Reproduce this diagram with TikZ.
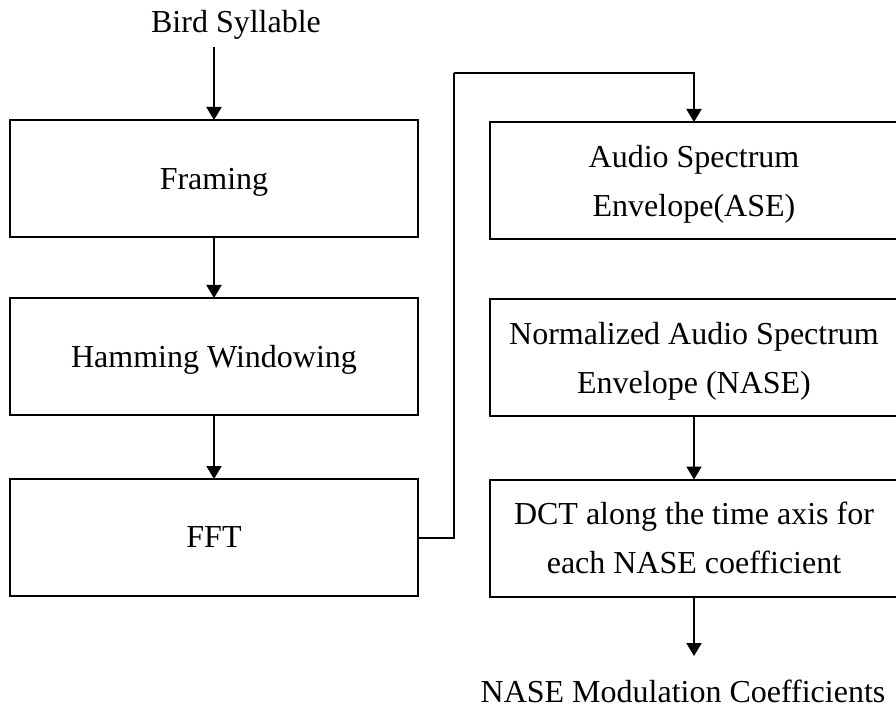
\documentclass[tikz,border=0pt]{standalone}
\usepackage{fontspec}
\setmainfont{Liberation Serif}
\usetikzlibrary{arrows.meta}
\begin{document}
\begin{tikzpicture}[x=0.5pt,y=-0.5pt,
  every node/.style={font=\fontsize{16}{24.5}\selectfont},
  procbox/.style={draw, line width=1pt, minimum width=204pt, minimum height=58.5pt, align=center, inner sep=0pt, outer sep=0pt, text depth=0pt},
  lbl/.style={inner sep=0pt, outer sep=0pt, anchor=base, text depth=0pt},
  arr/.style={line width=1pt, -{Triangle[length=6.5pt,width=7.5pt]}},
  conn/.style={line width=1pt}]
\useasboundingbox (0,0) rectangle (896,706);
\node[lbl] (bird) at (236,33) {Bird Syllable};
\coordinate (in) at (214,47);
\node[procbox] (framing) at (214,178.5) {Framing};
\node[procbox] (hamming) at (214,356.5) {Hamming Windowing};
\node[procbox] (fft) at (214,537.5) {FFT};
\node[procbox] (ase) at (694,180.5) {Audio Spectrum\\Envelope(ASE)};
\node[procbox] (nase) at (694,357.5) {Normalized Audio Spectrum\\Envelope (NASE)};
\node[procbox] (dct) at (694,538) {DCT along the time axis for\\each NASE coefficient};
\node[lbl] (out) at (683,702) {NASE Modulation Coefficients};
\coordinate (outpt) at (694,656);
\coordinate (turn) at (454,73);
\draw[arr] (in) -- (framing.north);
\draw[arr] (framing.south) -- (hamming.north);
\draw[arr] (hamming.south) -- (fft.north);
\draw[conn] (fft.east) -| (turn);
\draw[arr] (turn) -| (ase.north);
\draw[arr] (nase.south) -- (dct.north);
\draw[arr] (dct.south) -- (outpt);
\end{tikzpicture}
\end{document}
